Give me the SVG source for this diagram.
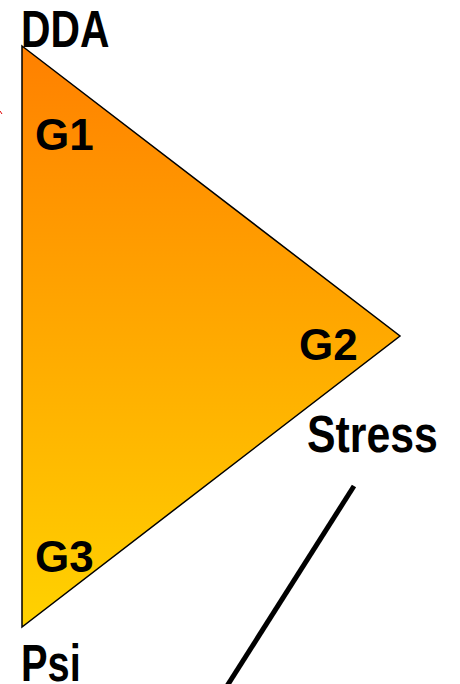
<svg xmlns="http://www.w3.org/2000/svg" width="460" height="684" viewBox="0 0 460 684">
<style>
text{font-family:"Liberation Sans",Arial,sans-serif;font-weight:bold;fill:#000}
.g{font-size:44px}
.big{font-size:51px}
</style>
<defs>
<linearGradient id="grad" x1="0" y1="46" x2="0" y2="627" gradientUnits="userSpaceOnUse">
<stop offset="0" stop-color="#FF8000"/>
<stop offset="1" stop-color="#FFD200"/>
</linearGradient>
</defs>
<g id="triangle">
<polygon points="22,46 400,336 22,627" fill="url(#grad)" stroke="#000" stroke-width="1.5"/>
</g>
<g id="labels">
<text class="big" transform="translate(21,47) scale(0.8,1)">DDA</text>
<text class="g" x="35" y="150">G1</text>
<text class="g" x="299" y="360">G2</text>
<text class="g" x="35" y="572">G3</text>
<text class="big" transform="translate(307,452) scale(0.84,1)">Stress</text>
<text class="big" transform="translate(21,681) scale(0.78,1)">Psi</text>
</g>
<g id="connectors">
<line x1="354" y1="486" x2="227" y2="686" stroke="#000" stroke-width="5"/>
<line x1="0" y1="111" x2="2" y2="114" stroke="#e00000" stroke-width="1"/>
</g>
</svg>
